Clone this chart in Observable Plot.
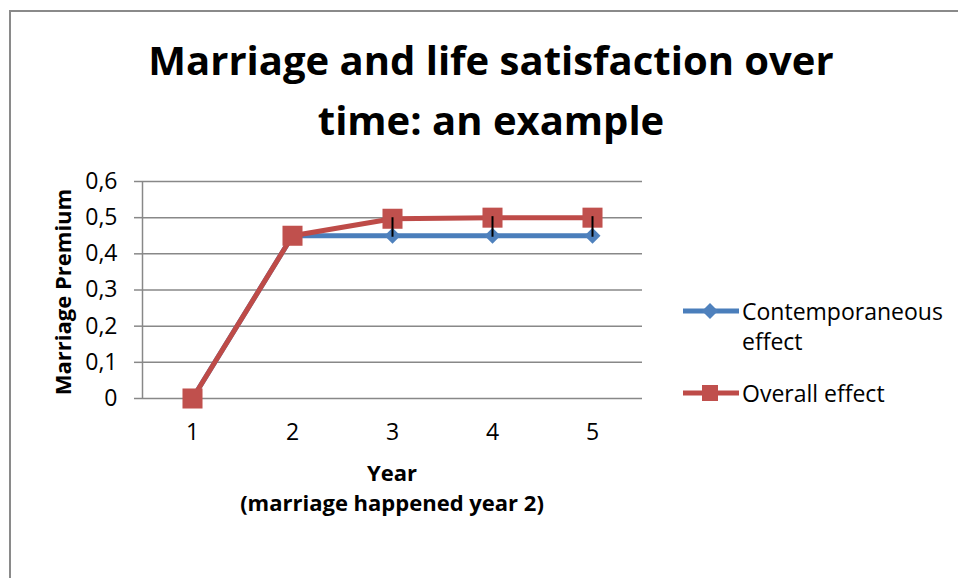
<!DOCTYPE html>
<html>
<head>
<meta charset="utf-8">
<script src="https://cdn.jsdelivr.net/npm/d3@7"></script>
<script src="https://cdn.jsdelivr.net/npm/@observablehq/plot@0.6"></script>
<style>
  html, body { margin: 0; padding: 0; background: #fff; overflow: hidden; }
  #wrap { position: relative; width: 958px; height: 578px; overflow: hidden; font-family: "Open Sans", sans-serif; color: #000; }
  #border { position: absolute; left: 9px; top: 10px; width: 1000px; height: 700px; border-left: 2px solid #8a8a8a; border-top: 2px solid #8a8a8a; }
  #title { position: absolute; left: 91px; top: 30px; width: 800px; text-align: center; font-weight: 700; font-size: 40px; line-height: 59.5px; }
  #ylabel { position: absolute; left: -88px; top: 277px; width: 300px; height: 30px; line-height: 30px; text-align: center; font-weight: 700; font-size: 22px; transform: rotate(-90deg); }
  #xlabel { position: absolute; left: 192px; top: 457px; width: 400px; text-align: center; font-weight: 700; font-size: 22px; line-height: 30px; }
  #chart { position: absolute; left: 0; top: 160px; }
  .leg { position: absolute; left: 683px; font-size: 23px; line-height: 30px; }
  .leg svg { position: absolute; left: 0; }
  .leg span { position: absolute; left: 59px; white-space: nowrap; }
</style>
</head>
<body>
<div id="wrap">
  <div id="border"></div>
  <div id="title">Marriage and life satisfaction over<br>time: an example</div>
  <div id="ylabel">Marriage Premium</div>
  <div id="xlabel">Year<br>(marriage happened year 2)</div>
  <div id="chart"></div>
  <div class="leg" id="leg1" style="top:296px">
    <svg width="56" height="30" style="top:0"><line x1="0" y1="15" x2="56" y2="15" stroke="#4A7EBB" stroke-width="5" stroke-linecap="round"/><path d="M27,7 L35,15 L27,23 L19,15 Z" fill="#4F81BD"/></svg>
    <span style="top:0">Contemporaneous<br>effect</span>
  </div>
  <div class="leg" id="leg2" style="top:378px">
    <svg width="56" height="30" style="top:0"><line x1="0" y1="15" x2="56" y2="15" stroke="#BE4B48" stroke-width="5" stroke-linecap="round"/><rect x="19" y="7" width="16" height="16" fill="#C0504D"/></svg>
    <span style="top:0">Overall effect</span>
  </div>
</div>
<script>
const years = [1, 2, 3, 4, 5];
const contemporaneous = [0, 0.45, 0.45, 0.45, 0.45];
const overall = [0, 0.45, 0.497, 0.5, 0.5];
const yTicks = [0, 0.1, 0.2, 0.3, 0.4, 0.5, 0.6];

const rows = years.map((y, i) => ({year: y, contemp: contemporaneous[i], overall: overall[i]}));
const gaps = rows.filter(d => d.overall > d.contemp);
const fmt = d => d === 0 ? "0" : d.toFixed(1).replace(".", ",");

const chart = Plot.plot({
  width: 660,
  height: 300,
  marginLeft: 142,
  marginRight: 18,
  marginTop: 21,
  marginBottom: 62,
  style: {fontFamily: "Open Sans, sans-serif", fontSize: "23px", color: "#000", background: "transparent", overflow: "visible"},
  x: {domain: [0.5, 5.5], type: "linear"},
  y: {domain: [0, 0.6]},
  marks: [
    Plot.ruleY(yTicks, {x1: 0.5, x2: 5.5, stroke: "#888", strokeWidth: 1.5}),
    Plot.ruleX([0.5], {y1: 0, y2: 0.6, stroke: "#888", strokeWidth: 1.5}),
    Plot.axisY(yTicks, {tickSize: 8, tickPadding: 17, stroke: "#888", strokeWidth: 1.5, tickFormat: fmt, label: null, fontSize: 23}),
    Plot.axisX(years, {tickSize: 0, tickPadding: 25, tickFormat: d => String(d), label: null, fontSize: 23}),
    Plot.line(rows, {x: "year", y: "contemp", stroke: "#4A7EBB", strokeWidth: 5, strokeLinejoin: "round", strokeLinecap: "round"}),
    Plot.dot(rows, {x: "year", y: "contemp", symbol: "square", r: 6.4, rotate: 45, fill: "#4F81BD", stroke: "none"}),
    Plot.line(rows, {x: "year", y: "overall", stroke: "#BE4B48", strokeWidth: 5, strokeLinejoin: "round", strokeLinecap: "round"}),
    Plot.dot(rows, {x: "year", y: "overall", symbol: "square", r: 11.3, fill: "#C0504D", stroke: "none"}),
    Plot.ruleX(gaps, {x: "year", y1: "contemp", y2: "overall", stroke: "#000", strokeWidth: 2, insetTop: 1.5, insetBottom: 1})
  ]
});
document.getElementById("chart").appendChild(chart);
</script>
</body>
</html>
